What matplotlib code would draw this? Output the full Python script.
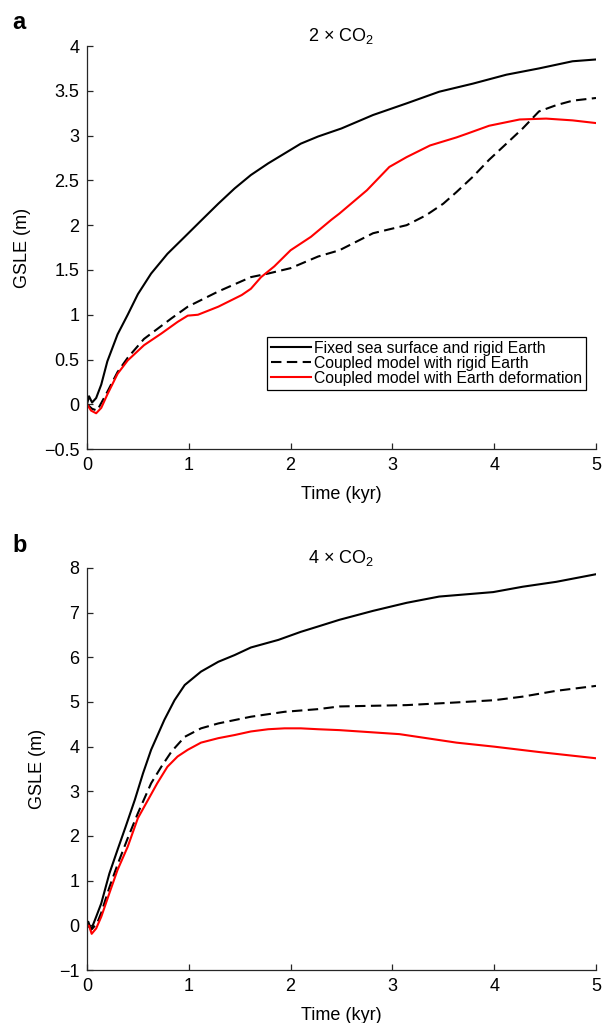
import matplotlib
matplotlib.use('Agg')
import matplotlib.pyplot as plt
from matplotlib.ticker import FuncFormatter, MultipleLocator

plt.rcParams['font.family'] = ['Liberation Sans', 'DejaVu Sans']
plt.rcParams['mathtext.fontset'] = 'custom'
plt.rcParams['mathtext.rm'] = 'Liberation Sans'
plt.rcParams['mathtext.it'] = 'Liberation Sans:italic'

# panel a: 2 x CO2
t_a_fixed = [0, 0.02, 0.05, 0.09, 0.14, 0.2, 0.3, 0.4, 0.5, 0.63, 0.79, 0.96, 1.12, 1.29, 1.45, 1.61,
             1.78, 1.94, 2.1, 2.27, 2.5, 2.81, 3.14, 3.46, 3.79, 4.12, 4.44, 4.77, 5.0]
v_a_fixed = [0, 0.09, 0.02, 0.07, 0.22, 0.48, 0.78, 1.0, 1.23, 1.46, 1.68, 1.87, 2.05, 2.24, 2.41, 2.56,
             2.69, 2.80, 2.91, 2.99, 3.08, 3.23, 3.36, 3.49, 3.58, 3.68, 3.75, 3.83, 3.85]

t_a_rigid = [0, 0.05, 0.1, 0.2, 0.3, 0.4, 0.56, 0.83, 0.99, 1.29, 1.61, 1.78, 2.0, 2.27, 2.48, 2.81,
             3.14, 3.33, 3.5, 3.63, 3.79, 3.95, 4.12, 4.28, 4.44, 4.61, 4.77, 5.0]
v_a_rigid = [0, -0.05, -0.07, 0.14, 0.36, 0.52, 0.73, 0.96, 1.09, 1.26, 1.42, 1.46, 1.52, 1.65, 1.72, 1.91,
             2.0, 2.11, 2.24, 2.37, 2.54, 2.73, 2.91, 3.08, 3.27, 3.34, 3.39, 3.42]

t_a_deform = [0, 0.04, 0.09, 0.14, 0.2, 0.3, 0.4, 0.56, 0.73, 0.89, 0.99, 1.09, 1.29, 1.52, 1.61, 1.71,
              1.84, 2.0, 2.2, 2.4, 2.48, 2.75, 2.97, 3.14, 3.37, 3.63, 3.73, 3.95, 4.25, 4.51, 4.77, 5.0]
v_a_deform = [0, -0.07, -0.1, -0.04, 0.11, 0.34, 0.49, 0.66, 0.79, 0.92, 0.99, 1.0, 1.09, 1.22, 1.29, 1.42,
              1.54, 1.72, 1.87, 2.06, 2.13, 2.39, 2.65, 2.76, 2.89, 2.98, 3.02, 3.11, 3.18, 3.19, 3.17, 3.14]

# panel b: 4 x CO2
t_b_fixed = [0, 0.013, 0.04, 0.09, 0.14, 0.22, 0.3, 0.38, 0.47, 0.55, 0.63, 0.76, 0.86, 0.96, 1.12, 1.29,
             1.45, 1.61, 1.88, 2.1, 2.27, 2.48, 2.81, 3.14, 3.46, 3.99, 4.28, 4.61, 5.0]
v_b_fixed = [0, 0.08, -0.1, 0.19, 0.49, 1.16, 1.69, 2.21, 2.81, 3.4, 3.93, 4.6, 5.04, 5.38, 5.68, 5.9,
             6.05, 6.22, 6.39, 6.57, 6.69, 6.84, 7.04, 7.22, 7.36, 7.46, 7.58, 7.69, 7.86]

t_b_rigid = [0, 0.05, 0.1, 0.14, 0.22, 0.3, 0.4, 0.5, 0.63, 0.73, 0.83, 0.96, 1.12, 1.29, 1.61, 1.94,
             2.27, 2.48, 3.14, 3.63, 4.0, 4.28, 4.61, 5.0]
v_b_rigid = [0, -0.08, 0.05, 0.28, 0.85, 1.36, 1.95, 2.51, 3.18, 3.55, 3.89, 4.22, 4.41, 4.52, 4.67, 4.78,
             4.84, 4.9, 4.93, 4.99, 5.04, 5.12, 5.25, 5.36]

t_b_deform = [0, 0.02, 0.046, 0.09, 0.14, 0.22, 0.3, 0.4, 0.5, 0.6, 0.69, 0.79, 0.89, 0.99, 1.12, 1.29,
              1.45, 1.61, 1.78, 1.94, 2.1, 2.27, 2.48, 3.07, 3.63, 4.0, 4.44, 5.0]
v_b_deform = [0, -0.01, -0.19, -0.07, 0.19, 0.72, 1.24, 1.76, 2.4, 2.81, 3.18, 3.55, 3.78, 3.93, 4.09, 4.19,
              4.26, 4.34, 4.39, 4.41, 4.41, 4.39, 4.37, 4.28, 4.09, 4.0, 3.88, 3.74]

labels = ['Fixed sea surface and rigid Earth',
          'Coupled model with rigid Earth',
          'Coupled model with Earth deformation']

fig = plt.figure(figsize=(6.02, 10.23), dpi=100)
ax_a = fig.add_axes([0.1445, 0.561, 0.8455, 0.394])
ax_b = fig.add_axes([0.1445, 0.0518, 0.8455, 0.393])

fmt = FuncFormatter(lambda v, p: ('%g' % v).replace('-', '\u2212'))


def style(ax, ylim, ystep, title):
    ax.set_xlim(0, 5)
    ax.set_ylim(*ylim)
    ax.xaxis.set_major_locator(MultipleLocator(1))
    ax.yaxis.set_major_locator(MultipleLocator(ystep))
    ax.yaxis.set_major_formatter(fmt)
    ax.xaxis.set_major_formatter(fmt)
    for s in ['top', 'right']:
        ax.spines[s].set_visible(False)
    for s in ['left', 'bottom']:
        ax.spines[s].set_color('#262626')
        ax.spines[s].set_linewidth(0.9)
    ax.tick_params(direction='in', length=4, width=0.9, color='#262626', labelsize=13, pad=5.5)
    ax.set_xlabel('Time (kyr)', fontsize=13, labelpad=9)
    ax.set_ylabel('GSLE (m)', fontsize=13, labelpad=9)
    ax.set_title(title, fontsize=13, pad=3)


dash = (5, 2.6)
lw = 1.5
ax_a.plot(t_a_fixed, v_a_fixed, color='black', lw=lw, label=labels[0])
ax_a.plot(t_a_rigid, v_a_rigid, color='black', lw=lw, dashes=dash, label=labels[1])
ax_a.plot(t_a_deform, v_a_deform, color='#ff0000', lw=lw, label=labels[2])
style(ax_a, (-0.5, 4), 0.5, r'2 $\times$ CO$_2$')
leg = ax_a.legend(loc='upper right', bbox_to_anchor=(0.98, 0.278), fontsize=11.3, frameon=True,
                  fancybox=False, edgecolor='black', framealpha=1, borderpad=0.25,
                  labelspacing=0.0, handlelength=2.5, handletextpad=0.2, borderaxespad=0)
leg.get_frame().set_linewidth(0.9)

ax_b.plot(t_b_fixed, v_b_fixed, color='black', lw=lw)
ax_b.plot(t_b_rigid, v_b_rigid, color='black', lw=lw, dashes=dash)
ax_b.plot(t_b_deform, v_b_deform, color='#ff0000', lw=lw)
style(ax_b, (-1, 8), 1, r'4 $\times$ CO$_2$')

fig.text(0.021, 1 - 29 / 1023, 'a', fontsize=17, fontweight='bold', va='baseline')
fig.text(0.021, 1 - 552 / 1023, 'b', fontsize=17, fontweight='bold', va='baseline')

fig.savefig('out.png', dpi=100)
